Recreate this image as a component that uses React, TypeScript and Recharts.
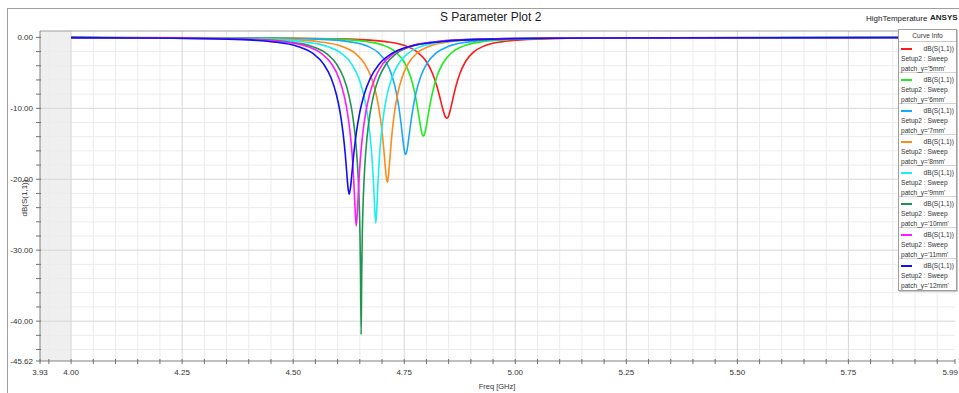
import React from "react";
import { LineChart, Line, XAxis, YAxis, ReferenceLine, ReferenceArea } from "recharts";

// patch_y sweep, dB(S(1,1)) vs Freq [GHz]
const sweepLabels = ["5mm", "6mm", "7mm", "8mm", "9mm", "10mm", "11mm", "12mm"];
const sweepColors = ["#ff1a1a", "#1eee1e", "#1aa8ff", "#ff8c1a", "#1af0f0", "#1f9650", "#ff1aff", "#1010f0"];

const freq5 = [4.0, 4.461, 4.626, 4.7085, 4.7525, 4.78, 4.7993, 4.813, 4.8229, 4.8295, 4.835, 4.8389, 4.8416, 4.8438, 4.846, 4.848, 4.85, 4.8525, 4.856, 4.861, 4.867, 4.876, 4.8885, 4.906, 4.931, 4.971, 5.046, 5.196, 5.99];
const db5 = [-0.03, -0.08, -0.24, -0.6, -1.18, -2.08, -3.36, -4.98, -6.75, -8.27, -9.66, -10.56, -11.06, -11.31, -11.4, -11.31, -11.06, -10.56, -9.66, -8.27, -6.75, -4.98, -3.36, -2.08, -1.18, -0.6, -0.24, -0.08, -0.01];

const freq6 = [4.0, 4.443, 4.593, 4.668, 4.708, 4.733, 4.7505, 4.763, 4.772, 4.778, 4.783, 4.7865, 4.789, 4.791, 4.793, 4.7951, 4.7972, 4.7999, 4.8036, 4.8089, 4.8153, 4.8248, 4.8381, 4.8566, 4.8831, 4.9255, 5.005, 5.164, 5.99];
const db6 = [-0.03, -0.08, -0.25, -0.62, -1.23, -2.17, -3.54, -5.31, -7.34, -9.21, -11.1, -12.47, -13.29, -13.74, -13.9, -13.74, -13.29, -12.47, -11.1, -9.21, -7.34, -5.31, -3.54, -2.17, -1.23, -0.62, -0.25, -0.08, -0.01];

const freq7 = [4.0, 4.403, 4.553, 4.628, 4.668, 4.693, 4.7105, 4.723, 4.732, 4.738, 4.743, 4.7465, 4.749, 4.751, 4.753, 4.7553, 4.7576, 4.7604, 4.7644, 4.7701, 4.7769, 4.7872, 4.8015, 4.8214, 4.8499, 4.8955, 4.981, 5.152, 5.99];
const db7 = [-0.03, -0.08, -0.25, -0.63, -1.26, -2.22, -3.64, -5.51, -7.72, -9.87, -12.22, -14.13, -15.44, -16.21, -16.5, -16.21, -15.44, -14.13, -12.22, -9.87, -7.72, -5.51, -3.64, -2.22, -1.26, -0.63, -0.25, -0.08, -0.01];

const freq8 = [4.0, 4.292, 4.472, 4.562, 4.61, 4.64, 4.661, 4.676, 4.6868, 4.694, 4.7, 4.7042, 4.7072, 4.7096, 4.712, 4.7142, 4.7164, 4.7192, 4.723, 4.7285, 4.7351, 4.745, 4.7588, 4.778, 4.8055, 4.8495, 4.932, 5.097, 5.99];
const db8 = [-0.03, -0.08, -0.25, -0.64, -1.28, -2.26, -3.72, -5.66, -8.02, -10.41, -13.26, -15.92, -18.12, -19.71, -20.4, -19.71, -18.12, -15.92, -13.26, -10.41, -8.02, -5.66, -3.72, -2.26, -1.28, -0.64, -0.25, -0.08, -0.01];

const freq9 = [4.0, 4.238, 4.43, 4.526, 4.5772, 4.6092, 4.6316, 4.6476, 4.6591, 4.6668, 4.6732, 4.6777, 4.6809, 4.6834, 4.686, 4.6884, 4.6908, 4.6938, 4.698, 4.704, 4.7112, 4.722, 4.737, 4.758, 4.788, 4.836, 4.926, 5.106, 5.99];
const db9 = [-0.03, -0.09, -0.25, -0.65, -1.29, -2.28, -3.76, -5.74, -8.18, -10.72, -13.9, -17.22, -20.58, -23.99, -26.2, -23.99, -20.58, -17.22, -13.9, -10.72, -8.18, -5.74, -3.76, -2.28, -1.29, -0.65, -0.25, -0.09, -0.01];

const freq10 = [4.0, 4.198, 4.393, 4.4905, 4.5425, 4.575, 4.5978, 4.614, 4.6257, 4.6335, 4.64, 4.6446, 4.6478, 4.6504, 4.6517, 4.653, 4.6543, 4.6556, 4.6583, 4.6616, 4.6662, 4.6728, 4.6807, 4.6926, 4.7091, 4.7322, 4.7652, 4.818, 4.917, 5.115, 5.99];
const db10 = [-0.03, -0.09, -0.25, -0.65, -1.29, -2.29, -3.77, -5.77, -8.24, -10.83, -14.14, -17.78, -21.92, -27.79, -33.33, -41.9, -33.33, -27.79, -21.92, -17.78, -14.14, -10.83, -8.24, -5.77, -3.77, -2.29, -1.29, -0.65, -0.25, -0.09, -0.01];

const freq11 = [4.0, 4.187, 4.382, 4.4795, 4.5315, 4.564, 4.5868, 4.603, 4.6147, 4.6225, 4.629, 4.6336, 4.6368, 4.6394, 4.642, 4.6448, 4.6476, 4.6511, 4.656, 4.663, 4.6714, 4.684, 4.7015, 4.726, 4.761, 4.817, 4.922, 5.132, 5.99];
const db11 = [-0.03, -0.09, -0.25, -0.65, -1.29, -2.28, -3.76, -5.75, -8.19, -10.73, -13.92, -17.27, -20.69, -24.23, -26.6, -24.23, -20.69, -17.27, -13.92, -10.73, -8.19, -5.75, -3.76, -2.28, -1.29, -0.65, -0.25, -0.09, -0.01];

const freq12 = [4.0, 4.15, 4.354, 4.456, 4.5104, 4.5444, 4.5682, 4.5852, 4.5974, 4.6056, 4.6124, 4.6172, 4.6206, 4.6233, 4.626, 4.6292, 4.6324, 4.6364, 4.642, 4.65, 4.6596, 4.674, 4.694, 4.722, 4.762, 4.826, 4.946, 5.186, 5.99];
const db12 = [-0.03, -0.08, -0.25, -0.64, -1.28, -2.27, -3.74, -5.7, -8.09, -10.54, -13.53, -16.44, -19.04, -21.11, -22.1, -21.11, -19.04, -16.44, -13.53, -10.54, -8.09, -5.7, -3.74, -2.27, -1.28, -0.64, -0.25, -0.08, -0.01];

const sweepFreqs = [freq5, freq6, freq7, freq8, freq9, freq10, freq11, freq12];
const sweepDb = [db5, db6, db7, db8, db9, db10, db11, db12];

// axis ticks
const xLabelTicks = [3.93, 4.0, 4.25, 4.5, 4.75, 5.0, 5.25, 5.5, 5.75, 5.99];
const xMajorGrid = [4.0, 4.25, 4.5, 4.75, 5.0, 5.25, 5.5, 5.75];
const xMinorGrid = Array.from({ length: 41 }, (_, i) => Math.round((3.95 + i * 0.05) * 100) / 100);
const xTicks = [3.93, ...xMinorGrid, 5.99];

const yLabelTicks = [0, -10, -20, -30, -40, -45.62];
const yMajorGrid = [-10, -20, -30, -40];
const yMinorGrid = Array.from({ length: 23 }, (_, i) => -i * 2);
const yTicks = [...yMinorGrid, -45.62];

const Y_TOP = 0.9;
const Y_BOTTOM = -45.62;

const series = sweepLabels.map((label, i) => ({
    label,
    color: sweepColors[i],
    data: sweepFreqs[i].map((f, j) => ({ f, db: sweepDb[i][j] })),
}));

const tickFont = "'Liberation Sans', Arial, sans-serif";

const XTick = (props: any) => {
    const { x, y, payload } = props;
    const v = payload.value;
    const showLabel = xLabelTicks.some((t) => Math.abs(t - v) < 1e-6);
    // last label sits at the right edge, keep it inside the page
    const isLast = Math.abs(v - 5.99) < 1e-6;
    return (
        <g>
            <line x1={x} x2={x} y1={y - 2} y2={y + 3} stroke="#707070" strokeWidth={1} />
            {showLabel && (
                <text
                    x={isLast ? x + 3 : x}
                    y={y + 14}
                    textAnchor={isLast ? "end" : "middle"}
                    fontSize={8}
                    fill="#333"
                    fontFamily={tickFont}
                >
                    {v.toFixed(2)}
                </text>
            )}
        </g>
    );
};

const YTick = (props: any) => {
    const { x, y, payload } = props;
    const v = payload.value;
    const showLabel = yLabelTicks.some((t) => Math.abs(t - v) < 1e-6);
    return (
        <g>
            <line x1={x - 4} x2={x + 1} y1={y} y2={y} stroke="#707070" strokeWidth={1} />
            {showLabel && (
                <text x={x - 7} y={y + 3} textAnchor="end" fontSize={8} fill="#333" fontFamily={tickFont}>
                    {v.toFixed(2)}
                </text>
            )}
        </g>
    );
};

function CurveInfo() {
    return (
        <div
            style={{
                position: "absolute",
                left: 898,
                top: 29,
                width: 57,
                background: "#fff",
                border: "1px solid #a0a0a0",
                boxShadow: "1px 1px 0 #c8c8c8",
                fontFamily: tickFont,
                fontSize: 6.6,
                color: "#333",
            }}
        >
            <div style={{ height: 11, lineHeight: "11px", textAlign: "center", borderBottom: "1px solid #c8c8c8" }}>
                Curve Info
            </div>
            {series.map((s, i) => (
                <div
                    key={s.label}
                    style={{
                        position: "relative",
                        height: 31,
                        borderBottom: i < series.length - 1 ? "1px solid #d4d4d4" : "none",
                        lineHeight: "10px",
                        paddingLeft: 2,
                        paddingTop: 2,
                        boxSizing: "border-box",
                    }}
                >
                    <div style={{ position: "absolute", left: 2, top: 6, width: 11, height: 2, background: s.color }} />
                    <div style={{ textAlign: "right", paddingRight: 2 }}>dB(S(1,1))</div>
                    <div>Setup2 : Sweep</div>
                    <div>patch_y='{s.label}'</div>
                </div>
            ))}
        </div>
    );
}

export default function App() {
    return (
        <div
            style={{
                position: "absolute",
                left: 0,
                top: 0,
                width: 959,
                height: 393,
                overflow: "hidden",
                background: "#fff",
                fontFamily: tickFont,
            }}
        >
            {/* outer frame */}
            <div style={{ position: "absolute", left: 7, top: 8, width: 1, height: 385, background: "#a0a0a0" }} />
            <div style={{ position: "absolute", left: 7, top: 8, width: 952, height: 1, background: "#a0a0a0" }} />

            <div style={{ position: "absolute", left: 440, top: 10, fontSize: 12, color: "#222", whiteSpace: "nowrap" }}>
                S Parameter Plot 2
            </div>
            <div style={{ position: "absolute", left: 866, top: 14, fontSize: 8, color: "#222", whiteSpace: "nowrap" }}>
                HighTemperature
            </div>
            <div style={{ position: "absolute", left: 930, top: 13, fontSize: 8, fontWeight: "bold", color: "#222", whiteSpace: "nowrap" }}>
                ANSYS
            </div>

            <LineChart width={959} height={393} margin={{ top: 31, right: 4, bottom: 0, left: 0 }}>
                <ReferenceArea x1={3.93} x2={4.0} y1={Y_BOTTOM} y2={Y_TOP} fill="#efefef" fillOpacity={1} stroke="none" />
                {xMinorGrid
                    .filter((v) => !xMajorGrid.includes(v))
                    .map((v) => (
                        <ReferenceLine key={"xm" + v} x={v} stroke="#ececec" strokeWidth={1} />
                    ))}
                {yMinorGrid
                    .filter((v) => v !== 0 && !yMajorGrid.includes(v))
                    .map((v) => (
                        <ReferenceLine key={"ym" + v} y={v} stroke="#ececec" strokeWidth={1} />
                    ))}
                {xMajorGrid.map((v) => (
                    <ReferenceLine key={"xM" + v} x={v} stroke="#d6d6d6" strokeWidth={1} />
                ))}
                {yMajorGrid.map((v) => (
                    <ReferenceLine key={"yM" + v} y={v} stroke="#d6d6d6" strokeWidth={1} />
                ))}
                <ReferenceLine y={Y_TOP} stroke="#a0a0a0" strokeWidth={1} />
                <XAxis
                    dataKey="f"
                    type="number"
                    domain={[3.93, 5.99]}
                    ticks={xTicks}
                    interval={0}
                    height={32}
                    tickSize={0}
                    tickMargin={0}
                    tickLine={false}
                    axisLine={{ stroke: "#808080" }}
                    tick={(p: any) => <XTick {...p} />}
                    allowDataOverflow
                />
                <YAxis
                    type="number"
                    domain={[Y_BOTTOM, Y_TOP]}
                    ticks={yTicks}
                    interval={0}
                    width={40}
                    tickSize={0}
                    tickMargin={0}
                    tickLine={false}
                    axisLine={{ stroke: "#808080" }}
                    tick={(p: any) => <YTick {...p} />}
                    allowDataOverflow
                />
                {series.map((s) => (
                    <Line
                        key={s.label}
                        data={s.data}
                        dataKey="db"
                        type="monotone"
                        stroke={s.color}
                        strokeWidth={1.6}
                        dot={false}
                        isAnimationActive={false}
                    />
                ))}
            </LineChart>

            <div
                style={{
                    position: "absolute",
                    left: 24,
                    top: 198,
                    transform: "translate(-50%, -50%) rotate(-90deg)",
                    fontSize: 8,
                    color: "#333",
                    whiteSpace: "nowrap",
                }}
            >
                dB(S(1,1))
            </div>
            <div
                style={{
                    position: "absolute",
                    left: 497,
                    top: 386,
                    transform: "translate(-50%, -50%)",
                    fontSize: 7.5,
                    color: "#333",
                    whiteSpace: "nowrap",
                }}
            >
                Freq [GHz]
            </div>

            <CurveInfo />
        </div>
    );
}
